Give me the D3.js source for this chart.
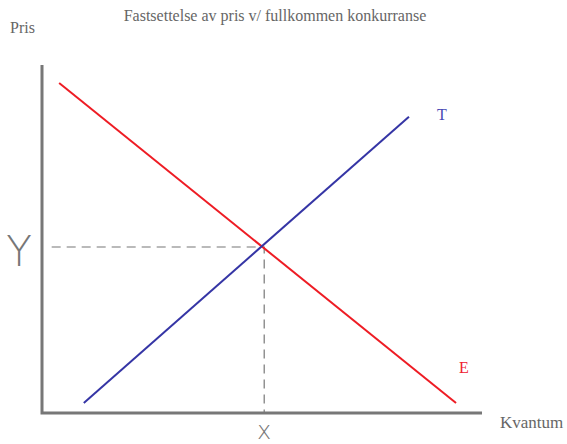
<!DOCTYPE html>
<html>
<head>
  <title>Fastsettelse av pris</title>
  <script src="https://d3js.org/d3.v7.min.js"></script>
  <style>
    body { margin: 0; background: #fff; }
    .axis-line { stroke: #777; stroke-width: 3px; fill: none; }
    .guide { stroke: #777; stroke-width: 1.2px; stroke-dasharray: 9,6; fill: none; }
    .lbl { font-family: "Liberation Serif", serif; fill: #666; }
    .hand { font-family: "DejaVu Sans", sans-serif; font-weight: 200; fill: #777; }
  </style>
</head>
<body>
  <script>
    var width = 567,
        height = 444;

    // demand (E) and supply (T) curves, endpoints in quantity/price units
    var demandX = [0.39, 9.41];
    var demandY = [9.48, 0.29];
    var supplyX = [0.95, 8.34];
    var supplyY = [0.29, 8.51];
    var equilibrium = [5.05, 4.77];

    var svg = d3.select("body").append("svg")
        .attr("width", width)
        .attr("height", height);

    var x = d3.scaleLinear().domain([0, 10]).range([42, 482]);
    var y = d3.scaleLinear().domain([0, 10]).range([413, 65]);

    var line = d3.line()
        .x(function(d) { return x(d[0]); })
        .y(function(d) { return y(d[1]); });

    // axes
    svg.append("path")
        .attr("class", "axis-line")
        .attr("d", line([[0, 10], [0, 0], [10, 0]]));

    // dashed guide lines to the equilibrium point
    svg.append("path")
        .attr("class", "guide")
        .attr("d", line([[0.22, equilibrium[1]], equilibrium, [equilibrium[0], 0]]));

    svg.append("path")
        .attr("d", line(d3.zip(demandX, demandY)))
        .attr("stroke", "#ee1c24")
        .attr("stroke-width", 2)
        .attr("fill", "none");

    svg.append("path")
        .attr("d", line(d3.zip(supplyX, supplyY)))
        .attr("stroke", "#3535a5")
        .attr("stroke-width", 2)
        .attr("fill", "none");

    // text
    svg.append("text").attr("class", "lbl")
        .attr("x", 275).attr("y", 21)
        .attr("text-anchor", "middle")
        .style("font-size", "16px")
        .text("Fastsettelse av pris v/ fullkommen konkurranse");

    svg.append("text").attr("class", "lbl")
        .attr("x", 10).attr("y", 33)
        .style("font-size", "16px")
        .text("Pris");

    svg.append("text").attr("class", "lbl")
        .attr("x", 500).attr("y", 428)
        .style("font-size", "17px")
        .text("Kvantum");

    svg.append("text").attr("class", "lbl")
        .attr("x", 437).attr("y", 120)
        .style("font-size", "16px")
        .style("fill", "#4a4ab5")
        .text("T");

    svg.append("text").attr("class", "lbl")
        .attr("x", 459).attr("y", 373)
        .style("font-size", "16px")
        .style("fill", "#ee2030")
        .text("E");

    // handwritten price/quantity markers
    svg.append("text").attr("class", "hand")
        .attr("x", 19).attr("y", 266)
        .attr("text-anchor", "middle")
        .style("font-size", "42px")
        .text("Y");

    svg.append("text").attr("class", "hand")
        .attr("x", x(equilibrium[0])).attr("y", 439)
        .attr("text-anchor", "middle")
        .style("font-size", "24px")
        .text("x");
  </script>
</body>
</html>
